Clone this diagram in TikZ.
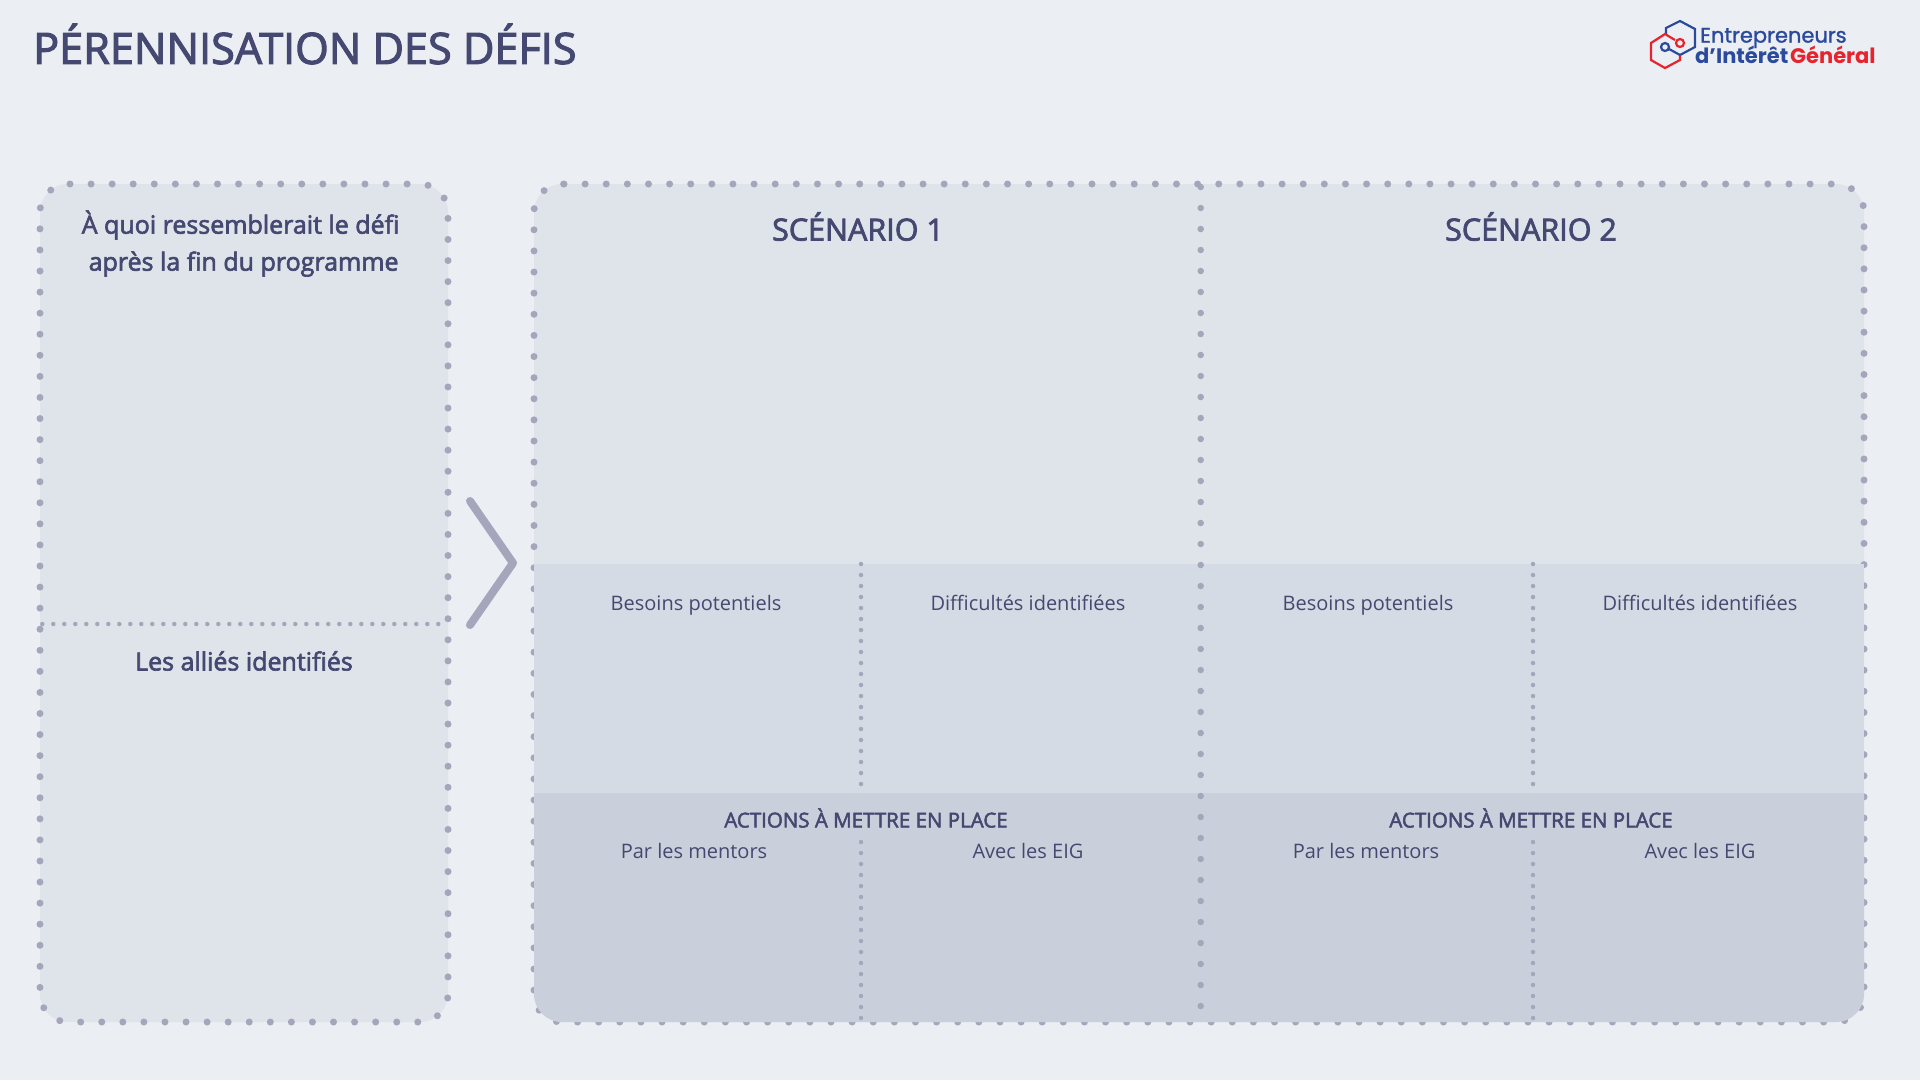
\documentclass[tikz,border=0pt]{standalone}
\usepackage{fontspec}
\setmainfont{Open Sans}
\newfontfamily\semifont[FakeBold=2.5]{Open Sans}
\newfontfamily\logofont{Poppins}
\newfontfamily\logomoyen[FakeBold=1.2]{Poppins}
\definecolor{fondpage}{HTML}{EBEEF3}
\definecolor{fondhaut}{HTML}{DFE3EA}
\definecolor{fondmilieu}{HTML}{D5DBE4}
\definecolor{fondbas}{HTML}{CAD0DB}
\definecolor{encre}{HTML}{454870}
\definecolor{points}{HTML}{A5A6BC}
\definecolor{logobleu}{HTML}{2B4A9E}
\definecolor{logorouge}{HTML}{E8232E}
\tikzset{
  gros/.style={draw=points,line width=7pt,line cap=round,rounded corners=28pt},
  fin/.style={draw=points,line width=4.5pt,line cap=round,dash pattern=on 0pt off 11pt},
  texte/.style={anchor=base,text=encre,inner sep=0pt,font=\fontsize{20}{20}\selectfont},
  entete/.style={text=encre,inner sep=0pt,font=\semifont\fontsize{20.5}{20.5}\selectfont},
  titre/.style={text=encre,inner sep=0pt,font=\semifont\fontsize{25}{37}\selectfont,align=center},
  scenario/.style={text=encre,inner sep=0pt,font=\semifont\fontsize{30.5}{30.5}\selectfont},
}
\begin{document}
\begin{tikzpicture}[x=1pt,y=-1pt]
    \fill[fondpage] (0,0) rectangle (1920,1080);
    \useasboundingbox (0,0) rectangle (1920,1080);
    \node[anchor=west,text=encre,inner sep=0pt,font=\semifont\fontsize{43.2}{43.2}\selectfont] (T) at (33,44) {PÉRENNISATION DES DÉFIS};
    % logo
    \begin{scope}[line width=2.2pt]
        \draw[logobleu] (1666,34)--(1666,28)--(1680,21)--(1695,29)--(1695,47)--(1680,55);
        \draw[logorouge] (1680,55)--(1680,60)--(1665,68)--(1651,60)--(1651,43)--(1665,34)--(1675,40);
        \draw[logorouge] (1680,43) circle (4pt);
        \draw[logobleu] (1665,47) circle (4pt);
        \draw[logobleu] (1669,49)--(1680,55);
    \end{scope}
    \node[anchor=west,inner sep=0pt,text=logobleu,font=\logomoyen\fontsize{21}{21}\selectfont] (E) at (1700,38) {Entrepreneurs};
    \node[anchor=west,inner sep=0pt,text=logobleu,font=\logofont\bfseries\fontsize{21}{21}\selectfont] (I) at (1695,55) {d’Intérêt};
    \node[anchor=west,inner sep=0pt,text=logorouge,font=\logofont\bfseries\fontsize{21}{21}\selectfont] (G) at (1790,55) {Général};
    % colonne de gauche
    \fill[fondhaut,rounded corners=28pt] (40,184) rectangle (448,1022);
    \draw[gros,dash pattern=on 0pt off 21.07pt] (70,184)--(448,184)--(448,1022)--(40,1022)--(40,184)--(70,184);
    \coordinate (GA) at (42.3,624);
    \coordinate (GB) at (448,624);
    \draw[fin] (GA)--(GB);
    \node[titre] (Q) at (240.6,243.5) {À quoi ressemblerait le défi\\ \hspace*{6pt}après la fin du programme};
    \node[titre] (L) at (244,661) {Les alliés identifiés};
    % fleche
    \coordinate (FA) at (470,501);
    \coordinate (FB) at (513,563);
    \coordinate (FC) at (470,625);
    \draw[points,line width=8pt,line cap=round,line join=round] (FA)--(FB)--(FC);
    % bloc de droite
    \fill[fondhaut,rounded corners=28pt] (534,184) rectangle (1864,1022);
    \draw[gros,dash pattern=on 0pt off 21.12pt] (564,184)--(1864,184)--(1864,1022)--(534,1022)--(534,184)--(564,184);
    \fill[fondmilieu] (534,564) rectangle (1864,793);
    \fill[fondbas] (534,793)--(1864,793)--(1864,994) arc (0:-90:28pt)--(562,1022) arc (-90:-180:28pt)--cycle;
    \coordinate (MA) at (1200.7,187);
    \coordinate (MB) at (1200.7,1022);
    \draw[draw=points,line width=6.5pt,line cap=round,dash pattern=on 0pt off 21pt] (MA)--(MB);
    \node[scenario] (S) at (858,226.5) {SCÉNARIO 1};
    \node[scenario] (U) at (1531,226.5) {SCÉNARIO 2};
    \node[entete] (H) at (866,818) {ACTIONS À METTRE EN PLACE};
    \node[entete] (J) at (1531,818) {ACTIONS À METTRE EN PLACE};
    \begin{scope}
        \coordinate (A) at (861,564);
        \coordinate (B) at (861,790);
        \coordinate (C) at (861,842);
        \coordinate (D) at (861,1022);
        \draw[fin] (A)--(B);
        \draw[fin] (C)--(D);
        \node[texte] (BP) at (696,610) {Besoins potentiels};
        \node[texte] (DI) at (1028,610) {Difficultés identifiées};
        \node[texte] (PM) at (694,858) {Par les mentors};
        \node[texte] (AE) at (1028,858) {Avec les EIG};
    \end{scope}
    \begin{scope}[xshift=672pt]
        \coordinate (A) at (861,564);
        \coordinate (B) at (861,790);
        \coordinate (C) at (861,842);
        \coordinate (D) at (861,1022);
        \draw[fin] (A)--(B);
        \draw[fin] (C)--(D);
        \node[texte] (BP) at (696,610) {Besoins potentiels};
        \node[texte] (DI) at (1028,610) {Difficultés identifiées};
        \node[texte] (PM) at (694,858) {Par les mentors};
        \node[texte] (AE) at (1028,858) {Avec les EIG};
    \end{scope}
\end{tikzpicture}
\end{document}
